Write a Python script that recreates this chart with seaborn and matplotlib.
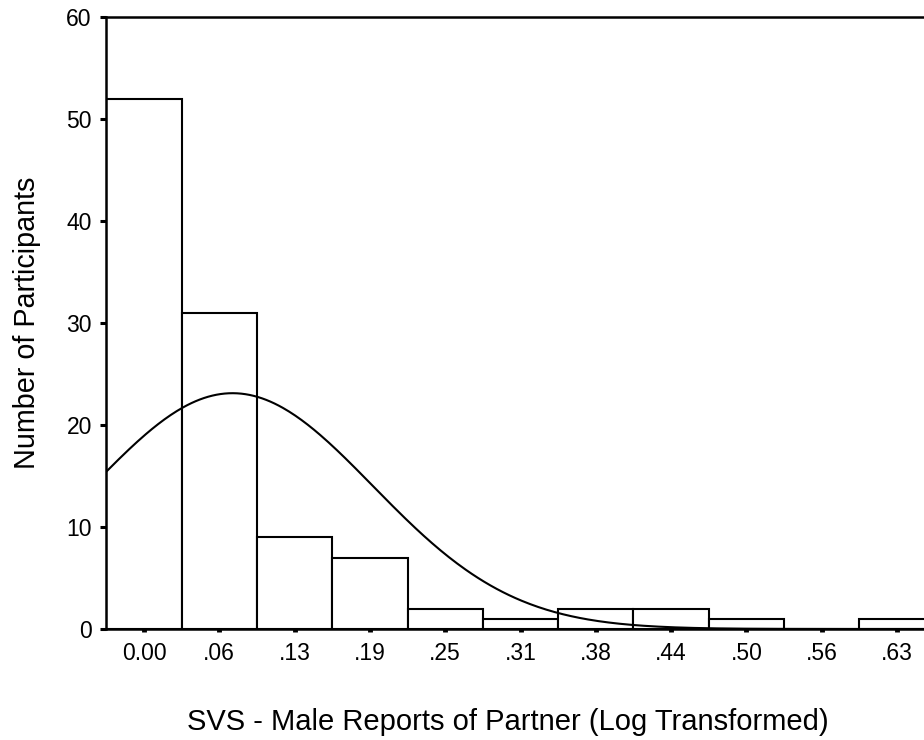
import numpy as np
import pandas as pd
import matplotlib
matplotlib.use("Agg")
import matplotlib.pyplot as plt
import seaborn as sns

# Data
tick_labels = ["0.00", ".06", ".13", ".19", ".25", ".31", ".38", ".44", ".50", ".56", ".63"]
bin_width = 0.0627
bin_centers = [i * bin_width for i in range(11)]
counts = [52, 31, 9, 7, 2, 1, 2, 2, 1, 0, 1]

sns.set_style("white")
plt.rcParams["font.family"] = ["Liberation Sans", "DejaVu Sans"]
plt.rcParams["text.color"] = "black"
plt.rcParams["axes.labelcolor"] = "black"

fig = plt.figure(figsize=(9.24, 7.4), dpi=100)
ax_left = 106.35 / 924
ax_bottom = 1 - 629 / 740
ax_top = 1 - 17 / 740
ax_width = (11 * 75.3) / 924
ax = fig.add_axes([ax_left, ax_bottom, ax_width, ax_top - ax_bottom])

df = pd.DataFrame({"x": bin_centers, "n": counts})
edges = [c - bin_width / 2 for c in bin_centers] + [bin_centers[-1] + bin_width / 2]
sns.histplot(data=df, x="x", weights="n", bins=edges, ax=ax,
             color="white", edgecolor="black", linewidth=1.5, alpha=1)

# Normal curve (SPSS-style) from the binned data
N = sum(counts)
xs = np.array(bin_centers)
cs = np.array(counts)
mean = (xs * cs).sum() / N
sd = np.sqrt(((xs - mean) ** 2 * cs).sum() / (N - 1))
gx = np.linspace(edges[0], edges[-1], 400)
gy = N * bin_width / (sd * np.sqrt(2 * np.pi)) * np.exp(-0.5 * ((gx - mean) / sd) ** 2)
sns.lineplot(x=gx, y=gy, ax=ax, color="black", linewidth=1.5)

ax.set_xlim(edges[0], edges[-1])
ax.set_ylim(0, 60)
ax.set_xticks(bin_centers)
ax.set_xticklabels(tick_labels)
ax.set_yticks(range(0, 61, 10))

for side in ["left", "top", "bottom"]:
    ax.spines[side].set_visible(True)
    ax.spines[side].set_color("black")
    ax.spines[side].set_linewidth(1.8)
ax.spines["right"].set_visible(False)

ax.tick_params(axis="x", direction="out", length=2.5, width=3.5, pad=7,
               labelsize=16.5, colors="black", bottom=True)
ax.tick_params(axis="y", direction="out", length=4.5, width=2.2, pad=6,
               labelsize=16.5, colors="black", left=True)

ax.set_xlabel("SVS - Male Reports of Partner (Log Transformed)", fontsize=21, color="black")
ax.set_ylabel("Number of Participants", fontsize=20.7, color="black")
ax.xaxis.set_label_coords((508 - 106.35) / (11 * 75.3), -(722 - 629) / (629 - 17), transform=ax.transAxes)
ax.yaxis.set_label_coords(-(106.35 - 27) / (11 * 75.3), 0.5, transform=ax.transAxes)
ax.xaxis.label.set_va("center")
ax.yaxis.label.set_va("center")
ax.grid(False)

fig.savefig("out.png", dpi=100)
